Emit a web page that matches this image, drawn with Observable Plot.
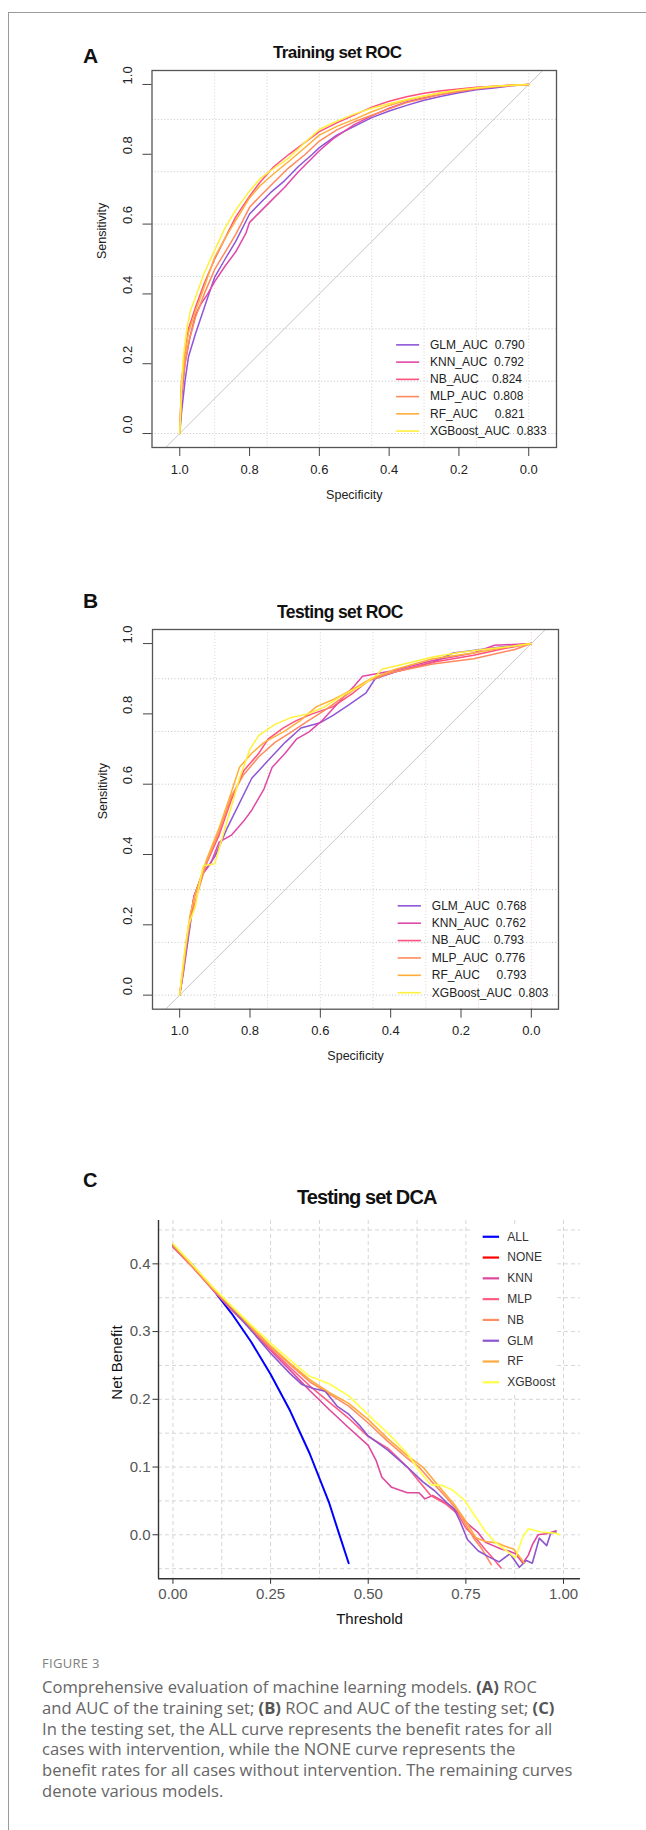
<!DOCTYPE html>
<html><head><meta charset="utf-8">
<script src="https://cdn.jsdelivr.net/npm/d3@7"></script>
<script src="https://cdn.jsdelivr.net/npm/@observablehq/plot@0.6"></script>
<style>
body{margin:0;background:#fff;}
#page{position:relative;width:646px;height:1830px;overflow:hidden;font-family:"Liberation Sans",Arial,sans-serif;background:#fff;}
.abs{position:absolute;white-space:nowrap;}
svg text{white-space:pre;}
.cap{position:absolute;left:42px;white-space:nowrap;font-family:"Open Sans",sans-serif;font-size:16.6px;line-height:20px;color:#666;}
.cap b{color:#555;font-weight:700;}
</style></head><body><div id="page"></div>
<script>
// ---------- data ----------
const models = ["GLM","KNN","NB","MLP","RF","XGBoost"];
const modelColors = ["#8e56d6","#e048a8","#ff507e","#ff8a5c","#ffae3a","#fff03c"];
const legendNames = ["GLM_AUC  ","KNN_AUC  ","NB_AUC    ","MLP_AUC  ","RF_AUC     ","XGBoost_AUC  "];
const trainAUC = ["0.790","0.792","0.824","0.808","0.821","0.833"];
const testAUC  = ["0.768","0.762","0.793","0.776","0.793","0.803"];
const rocTicks = [1.0,0.8,0.6,0.4,0.2,0.0];
const rocGrid = [0,0.15,0.30,0.45,0.60,0.75,0.90];

// training ROC: [specificity, sensitivity]
const trainGLM = [[1,0],[0.995,0.06],[0.985,0.15],[0.975,0.22],[0.955,0.286],[0.94,0.33],[0.92,0.39],[0.90,0.448],[0.87,0.50],[0.84,0.55],[0.80,0.629],[0.77,0.66],[0.74,0.69],[0.70,0.724],[0.66,0.765],[0.62,0.80],[0.60,0.819],[0.55,0.855],[0.50,0.88],[0.45,0.905],[0.40,0.924],[0.35,0.94],[0.30,0.955],[0.25,0.966],[0.20,0.976],[0.15,0.985],[0.10,0.99],[0.05,0.996],[0,1]];
const trainKNN = [[1,0],[0.995,0.10],[0.985,0.20],[0.97,0.28],[0.955,0.34],[0.94,0.37],[0.92,0.40],[0.90,0.435],[0.87,0.48],[0.84,0.52],[0.81,0.575],[0.80,0.605],[0.77,0.635],[0.74,0.665],[0.70,0.705],[0.66,0.75],[0.62,0.79],[0.60,0.81],[0.56,0.845],[0.50,0.885],[0.45,0.91],[0.40,0.932],[0.35,0.95],[0.30,0.962],[0.25,0.972],[0.20,0.98],[0.15,0.988],[0.10,0.994],[0.05,0.998],[0,1]];
const trainNB = [[1,0],[0.995,0.15],[0.985,0.23],[0.975,0.30],[0.955,0.362],[0.93,0.43],[0.90,0.50],[0.87,0.56],[0.84,0.62],[0.80,0.68],[0.77,0.72],[0.73,0.765],[0.687,0.80],[0.64,0.835],[0.60,0.865],[0.55,0.89],[0.50,0.912],[0.45,0.935],[0.40,0.952],[0.35,0.965],[0.30,0.975],[0.25,0.982],[0.20,0.987],[0.15,0.992],[0.10,0.995],[0.05,0.998],[0,1]];
const trainMLP = [[1,0],[0.995,0.12],[0.985,0.20],[0.975,0.26],[0.955,0.333],[0.93,0.40],[0.90,0.47],[0.87,0.52],[0.84,0.57],[0.80,0.648],[0.77,0.68],[0.73,0.72],[0.687,0.762],[0.64,0.80],[0.60,0.838],[0.55,0.87],[0.50,0.893],[0.45,0.912],[0.40,0.93],[0.35,0.948],[0.30,0.96],[0.25,0.972],[0.20,0.98],[0.15,0.988],[0.10,0.993],[0.05,0.997],[0,1]];
const trainRF = [[1,0],[0.995,0.14],[0.985,0.23],[0.975,0.29],[0.955,0.35],[0.93,0.42],[0.90,0.505],[0.87,0.56],[0.84,0.61],[0.80,0.675],[0.77,0.71],[0.73,0.745],[0.687,0.78],[0.64,0.82],[0.60,0.855],[0.55,0.88],[0.50,0.90],[0.45,0.922],[0.40,0.94],[0.35,0.955],[0.30,0.966],[0.25,0.976],[0.20,0.984],[0.15,0.99],[0.10,0.994],[0.05,0.997],[0,1]];
const trainXGB = [[1,0],[0.995,0.13],[0.99,0.22],[0.98,0.30],[0.97,0.35],[0.955,0.39],[0.93,0.46],[0.90,0.525],[0.87,0.59],[0.84,0.64],[0.80,0.695],[0.77,0.73],[0.73,0.76],[0.687,0.79],[0.64,0.835],[0.60,0.871],[0.55,0.895],[0.50,0.915],[0.45,0.932],[0.40,0.945],[0.35,0.957],[0.30,0.967],[0.25,0.976],[0.20,0.984],[0.15,0.99],[0.10,0.995],[0.05,0.998],[0,1]];

// testing ROC
const testGLM = [[1,0],[0.99,0.06],[0.98,0.13],[0.97,0.20],[0.959,0.282],[0.936,0.343],[0.90,0.394],[0.865,0.475],[0.83,0.546],[0.795,0.617],[0.748,0.668],[0.70,0.719],[0.655,0.76],[0.60,0.775],[0.565,0.795],[0.52,0.825],[0.47,0.86],[0.444,0.90],[0.386,0.92],[0.28,0.947],[0.222,0.973],[0.105,0.988],[0,1]];
const testKNN = [[1,0],[0.99,0.07],[0.98,0.15],[0.97,0.22],[0.959,0.28],[0.936,0.343],[0.912,0.374],[0.888,0.435],[0.853,0.455],[0.818,0.495],[0.795,0.526],[0.76,0.587],[0.737,0.648],[0.70,0.688],[0.667,0.729],[0.632,0.749],[0.596,0.78],[0.55,0.83],[0.503,0.88],[0.48,0.907],[0.398,0.922],[0.28,0.952],[0.164,0.973],[0.105,0.995],[0,1]];
const testNB = [[1,0],[0.99,0.08],[0.98,0.16],[0.97,0.22],[0.959,0.282],[0.924,0.374],[0.888,0.455],[0.853,0.556],[0.818,0.638],[0.775,0.688],[0.748,0.729],[0.705,0.76],[0.67,0.78],[0.623,0.80],[0.565,0.82],[0.506,0.86],[0.456,0.90],[0.386,0.92],[0.28,0.947],[0.164,0.967],[0.08,0.985],[0,1]];
const testMLP = [[1,0],[0.99,0.07],[0.98,0.15],[0.97,0.21],[0.955,0.27],[0.924,0.374],[0.888,0.465],[0.853,0.566],[0.818,0.627],[0.775,0.678],[0.729,0.719],[0.682,0.749],[0.635,0.78],[0.588,0.81],[0.53,0.851],[0.47,0.891],[0.40,0.917],[0.28,0.942],[0.164,0.957],[0.047,0.983],[0,1]];
const testRF = [[1,0],[0.99,0.08],[0.98,0.16],[0.97,0.23],[0.955,0.29],[0.924,0.384],[0.888,0.475],[0.853,0.577],[0.83,0.648],[0.795,0.688],[0.76,0.719],[0.705,0.749],[0.658,0.78],[0.612,0.82],[0.565,0.84],[0.506,0.871],[0.456,0.90],[0.386,0.927],[0.28,0.957],[0.164,0.973],[0.08,0.988],[0,1]];
const testXGB = [[1,0],[0.995,0.05],[0.985,0.13],[0.975,0.20],[0.956,0.25],[0.945,0.31],[0.933,0.368],[0.90,0.374],[0.877,0.455],[0.853,0.536],[0.83,0.617],[0.80,0.70],[0.775,0.739],[0.729,0.77],[0.682,0.79],[0.635,0.80],[0.588,0.82],[0.542,0.85],[0.483,0.88],[0.44,0.91],[0.425,0.927],[0.35,0.945],[0.28,0.962],[0.20,0.975],[0.12,0.985],[0.05,0.993],[0,1]];

// DCA: [threshold, net benefit]
const dcaNames  = ["ALL","NONE","KNN","MLP","NB","GLM","RF","XGBoost"];
const dcaColors = ["#0000ff","#ff0000","#e0489e","#ff5c84","#ff8c62","#8d55d0","#ffaa3c","#ffff47"];
const dcaALL  = [[0,0.428],[0.05,0.398],[0.10,0.364],[0.15,0.327],[0.20,0.285],[0.25,0.237],[0.30,0.183],[0.35,0.120],[0.40,0.047],[0.425,0.002],[0.45,-0.042]];
const dcaNONE = [[0,0],[0.99,0]];
const dcaKNN = [[0,0.425],[0.05,0.396],[0.10,0.364],[0.15,0.333],[0.20,0.303],[0.25,0.272],[0.30,0.243],[0.35,0.213],[0.40,0.185],[0.45,0.158],[0.50,0.132],[0.52,0.11],[0.535,0.085],[0.56,0.07],[0.60,0.062],[0.63,0.062],[0.645,0.053],[0.665,0.058],[0.69,0.05],[0.71,0.043],[0.735,0.03],[0.755,0.016],[0.78,0.004],[0.80,-0.011],[0.82,-0.016],[0.84,-0.021],[0.86,-0.024],[0.877,-0.028],[0.896,-0.042],[0.91,-0.03],[0.92,-0.015],[0.935,0],[0.96,0.002],[0.981,0.006]];
const dcaMLP = [[0,0.425],[0.05,0.395],[0.10,0.363],[0.15,0.332],[0.20,0.303],[0.25,0.274],[0.30,0.247],[0.35,0.22],[0.40,0.196],[0.45,0.172],[0.50,0.145],[0.55,0.128],[0.60,0.10],[0.64,0.072],[0.66,0.058],[0.70,0.045],[0.73,0.03],[0.75,0.01],[0.78,-0.008],[0.80,-0.022],[0.82,-0.035],[0.84,-0.049]];
const dcaNB = [[0,0.426],[0.05,0.396],[0.10,0.364],[0.15,0.334],[0.20,0.305],[0.25,0.277],[0.30,0.251],[0.35,0.226],[0.40,0.208],[0.45,0.19],[0.50,0.165],[0.55,0.138],[0.60,0.113],[0.63,0.10],[0.66,0.08],[0.70,0.055],[0.73,0.035],[0.75,0.015],[0.77,-0.005],[0.79,-0.02],[0.815,-0.044]];
const dcaGLM = [[0,0.427],[0.05,0.398],[0.10,0.366],[0.15,0.335],[0.20,0.302],[0.25,0.268],[0.30,0.238],[0.33,0.222],[0.36,0.216],[0.39,0.212],[0.42,0.19],[0.45,0.178],[0.48,0.16],[0.50,0.146],[0.55,0.125],[0.60,0.10],[0.64,0.078],[0.67,0.065],[0.70,0.048],[0.72,0.038],[0.735,0.02],[0.754,-0.007],[0.782,-0.024],[0.81,-0.033],[0.835,-0.04],[0.863,-0.028],[0.887,-0.048],[0.905,-0.038],[0.92,-0.042],[0.938,-0.005],[0.957,-0.016],[0.967,0.002],[0.981,0.004]];
const dcaRF = [[0,0.428],[0.05,0.397],[0.10,0.365],[0.15,0.336],[0.20,0.307],[0.25,0.279],[0.30,0.253],[0.35,0.229],[0.40,0.21],[0.45,0.194],[0.50,0.17],[0.55,0.142],[0.60,0.117],[0.64,0.10],[0.68,0.072],[0.72,0.045],[0.75,0.02],[0.775,-0.004],[0.80,-0.01],[0.83,-0.012],[0.85,-0.017],[0.872,-0.021],[0.90,-0.042]];
const dcaXGB = [[0,0.43],[0.05,0.399],[0.10,0.367],[0.15,0.338],[0.20,0.31],[0.25,0.283],[0.30,0.258],[0.35,0.234],[0.40,0.223],[0.45,0.205],[0.50,0.177],[0.55,0.15],[0.60,0.12],[0.63,0.095],[0.66,0.074],[0.688,0.073],[0.716,0.066],[0.745,0.052],[0.773,0.028],[0.801,0.004],[0.825,-0.011],[0.848,-0.021],[0.877,-0.034],[0.896,-0.003],[0.91,0.009],[0.943,0.004],[0.981,0.002],[0.99,0]];
const dcaXTicks = [0,0.25,0.5,0.75,1.0];
const dcaYTicks = [0,0.1,0.2,0.3,0.4];
const dcaXGrid = [0,0.125,0.25,0.375,0.5,0.625,0.75,0.875,1.0];
const dcaYGrid = [-0.05,0,0.05,0.1,0.15,0.2,0.25,0.3,0.35,0.4,0.45];

const caption = [
  'Comprehensive evaluation of machine learning models. <b>(A)</b> ROC',
  'and AUC of the training set; <b>(B)</b> ROC and AUC of the testing set; <b>(C)</b>',
  'In the testing set, the ALL curve represents the benefit rates for all',
  'cases with intervention, while the NONE curve represents the',
  'benefit rates for all cases without intervention. The remaining curves',
  'denote various models.'
];

// ---------- build ----------
const page = document.getElementById("page");
function place(el, top){ const d=document.createElement("div"); d.className="abs"; d.style.left="0px"; d.style.top=top+"px"; d.appendChild(el); page.appendChild(d); }
function label(text, left, top, css){ const d=document.createElement("div"); d.className="abs"; d.style.left=left+"px"; d.style.top=top+"px"; d.style.cssText += css; d.innerHTML=text; page.appendChild(d); return d; }

const f1 = d3.format(".1f"), f2 = d3.format(".2f");

function rocPlot(curves, aucs, cfg){
  const rows = models.flatMap((m,i)=>curves[i].map(([s,v])=>({model:m, spec:s, sens:v})));
  const legTop = 0.254, legStep = 0.0494;
  const leg = models.map((m,i)=>({model:m, y:legTop - i*legStep, text: legendNames[i] + aucs[i]}));
  return Plot.plot({
    width:646, height:cfg.height, marginLeft:cfg.left, marginRight:646-cfg.right, marginTop:cfg.top, marginBottom:cfg.height-cfg.bottom,
    x:{domain:cfg.xdom, axis:null},
    y:{domain:[-0.04,1.04], axis:null},
    color:{domain:models, range:modelColors},
    style:{fontFamily:"Liberation Sans, Arial, sans-serif", background:"transparent", overflow:"visible"},
    marks:[
      Plot.ruleY(rocGrid, {stroke:"#bfc1c6", strokeDasharray:"1,2.2", strokeWidth:1}),
      Plot.ruleX(rocGrid, {stroke:"#e6cdbd", strokeDasharray:"1,2.2", strokeWidth:1}),
      Plot.line([[1.04,-0.04],[-0.04,1.04]], {stroke:"#c8c8c8", strokeWidth:1}),
      Plot.line(rows, {x:"spec", y:"sens", z:"model", stroke:"model", strokeWidth:1.5}),
      Plot.link(leg, {x1:0.38, x2:0.314, y1:"y", y2:"y", stroke:"model", strokeWidth:1.6}),
      Plot.text(leg, {x:0.283, y:"y", text:"text", textAnchor:"start", fontSize:12, fill:"#222"}),
      Plot.frame({stroke:"#555", strokeWidth:1.3}),
      Plot.axisX({ticks:rocTicks, tickSize:9, tickFormat:()=>"", stroke:"#444", label:null}),
      Plot.axisY({ticks:rocTicks, tickSize:9, tickFormat:()=>"", stroke:"#444", label:null}),
      Plot.text(rocTicks, {x:d=>d, text:d=>f1(d), frameAnchor:"bottom", dy:26, fontSize:13, fill:"#222"}),
      Plot.text(rocTicks, {y:d=>d, text:d=>f1(d), frameAnchor:"left", dx:-24.5, rotate:-90, fontSize:13, fill:"#222"}),
      Plot.text(["Specificity"], {text:d=>d, frameAnchor:"bottom", dy:51, fontSize:12.5, fill:"#222"}),
      Plot.text(["Sensitivity"], {text:d=>d, frameAnchor:"left", dx:-50, rotate:-90, fontSize:12.5, fill:"#222"})
    ]
  });
}

// outer border
label("", 8, 12, "width:700px;height:1900px;border-top:1.5px solid #9a9a9a;border-left:1.5px solid #9a9a9a;");

// Panel A
place(rocPlot([trainGLM,trainKNN,trainNB,trainMLP,trainRF,trainXGB], trainAUC,
  {height:520, left:151.5, right:556, top:70, bottom:447, xdom:[1.0796,-0.0796]}), 0);
label("A", 83, 44, "font-weight:bold;font-size:21px;line-height:24px;color:#111;");
label("Training set ROC", 273, 42, "font-weight:bold;font-size:17px;line-height:22px;letter-spacing:-0.6px;color:#111;");

// Panel B
place(rocPlot([testGLM,testKNN,testNB,testMLP,testRF,testXGB], testAUC,
  {height:520, left:152, right:558, top:69, bottom:448.7, xdom:[1.0773,-0.0773]}), 560);
label("B", 83, 589, "font-weight:bold;font-size:21px;line-height:24px;color:#111;");
label("Testing set ROC", 277, 601, "font-weight:bold;font-size:17.5px;line-height:22px;letter-spacing:-0.6px;color:#111;");

// Panel C
const dcaSeries = [dcaALL,dcaNONE,dcaKNN,dcaMLP,dcaNB,dcaGLM,dcaRF,dcaXGB];
const dcaRows = (names)=>names.flatMap(n=>dcaSeries[dcaNames.indexOf(n)].map(([t,v])=>({name:n,t,v})));
const dcaLeg = dcaNames.map((n,i)=>({name:n, y:0.44 - i*0.0307}));
const dcaPlot = Plot.plot({
  width:646, height:500, marginLeft:158, marginRight:66, marginTop:80, marginBottom:61.7,
  x:{domain:[-0.037,1.0435], axis:null},
  y:{domain:[-0.065,0.464], axis:null},
  color:{domain:dcaNames, range:dcaColors},
  style:{fontFamily:"Liberation Sans, Arial, sans-serif", background:"transparent", overflow:"visible"},
  marks:[
    Plot.ruleX(dcaXGrid, {stroke:"#d6d6d6", strokeDasharray:"4,3", strokeWidth:1}),
    Plot.ruleY(dcaYGrid, {stroke:"#d6d6d6", strokeDasharray:"4,3", strokeWidth:1}),
    Plot.line(dcaRows(["ALL"]), {x:"t", y:"v", z:"name", stroke:"name", strokeWidth:2}),
    Plot.line(dcaRows(["KNN","MLP","NB","GLM","RF","XGBoost"]), {x:"t", y:"v", z:"name", stroke:"name", strokeWidth:1.6}),
    Plot.line(dcaRows(["NONE"]), {x:"t", y:"v", z:"name", stroke:"name", strokeWidth:2}),
    Plot.rect([0], {x1:0.77, x2:0.985, y1:0.21, y2:0.455, fill:"white"}),
    Plot.link(dcaLeg, {x1:0.793, x2:0.835, y1:"y", y2:"y", stroke:"name", strokeWidth:2.2}),
    Plot.text(dcaLeg, {x:0.856, y:"y", text:"name", textAnchor:"start", fontSize:12, fill:"#333"}),
    Plot.ruleX([-0.037], {stroke:"#333", strokeWidth:1.4}),
    Plot.ruleY([-0.065], {stroke:"#333", strokeWidth:1.4}),
    Plot.axisX({ticks:dcaXTicks, tickSize:5.5, tickFormat:()=>"", stroke:"#333", label:null}),
    Plot.axisY({ticks:dcaYTicks, tickSize:5.5, tickFormat:()=>"", stroke:"#333", label:null}),
    Plot.text(dcaXTicks, {x:d=>d, text:d=>f2(d), frameAnchor:"bottom", dy:20, fontSize:15, fill:"#555"}),
    Plot.text(dcaYTicks, {y:d=>d, text:d=>f1(d), frameAnchor:"left", dx:-8, textAnchor:"end", fontSize:15, fill:"#555"}),
    Plot.text(["Threshold"], {text:d=>d, frameAnchor:"bottom", dy:45, fontSize:15, fill:"#111"}),
    Plot.text(["Net Benefit"], {text:d=>d, frameAnchor:"left", dx:-41.4, rotate:-90, fontSize:15, fill:"#111"})
  ]
});
place(dcaPlot, 1140);
label("C", 83, 1168, "font-weight:bold;font-size:20px;line-height:24px;color:#111;");
label("Testing set DCA", 297, 1184, "font-weight:bold;font-size:20px;line-height:26px;letter-spacing:-0.9px;color:#111;");

// caption
label("FIGURE 3", 42, 1653, "font-family:'Open Sans',sans-serif;font-size:13px;line-height:20px;color:#808080;letter-spacing:0.3px;");
caption.forEach((t,i)=>{ const d=document.createElement("div"); d.className="cap"; d.style.top=(1677.3+i*20.7)+"px"; d.innerHTML=t; page.appendChild(d); });
</script></body></html>
